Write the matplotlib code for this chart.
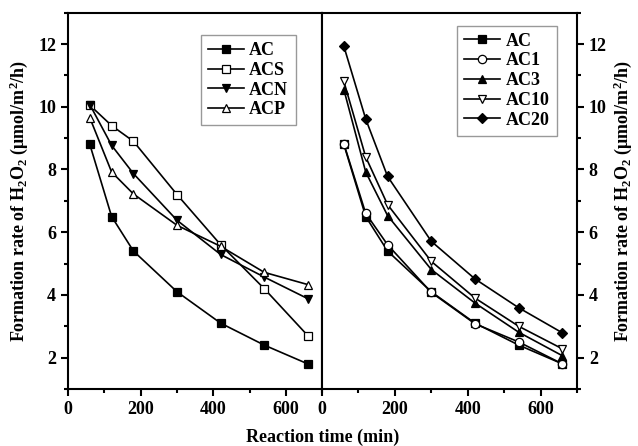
import matplotlib
matplotlib.use('Agg')
import matplotlib.pyplot as plt
from matplotlib.ticker import MultipleLocator

plt.rcParams['font.family'] = ['Liberation Serif', 'DejaVu Serif']
plt.rcParams['font.weight'] = 'bold'
plt.rcParams['mathtext.fontset'] = 'custom'
plt.rcParams['mathtext.bf'] = 'Liberation Serif:bold'
plt.rcParams['mathtext.rm'] = 'Liberation Serif:bold'
plt.rcParams['mathtext.default'] = 'bf'

# reaction time (min)
time = [60, 120, 180, 300, 420, 540, 660]

# left panel: modified carbons
ac = [8.8, 6.5, 5.4, 4.1, 3.1, 2.4, 1.8]
acs = [10.05, 9.4, 8.9, 7.2, 5.6, 4.2, 2.7]
acn = [10.07, 8.77, 7.87, 6.38, 5.29, 4.57, 3.88]
acp = [9.65, 7.92, 7.22, 6.22, 5.55, 4.72, 4.33]

# right panel: loading series
ac1 = [8.82, 6.6, 5.6, 4.08, 3.08, 2.5, 1.8]
ac3 = [10.55, 7.92, 6.53, 4.81, 3.74, 2.81, 2.06]
ac10 = [10.81, 8.4, 6.88, 5.07, 3.9, 3.0, 2.28]
ac20 = [11.93, 9.61, 7.78, 5.71, 4.51, 3.59, 2.79]

left_series = [('AC', ac, 's', 'k'), ('ACS', acs, 's', 'w'),
               ('ACN', acn, 'v', 'k'), ('ACP', acp, '^', 'w')]
right_series = [('AC', ac, 's', 'k'), ('AC1', ac1, 'o', 'w'),
                ('AC3', ac3, '^', 'k'), ('AC10', ac10, 'v', 'w'),
                ('AC20', ac20, 'D', 'k')]

ylabel = 'Formation rate of H$_2$O$_2$ (μmol/m$^2$/h)'

fig = plt.figure(figsize=(6.38, 4.46), dpi=100)
ax1 = fig.add_axes([0.1066, 0.1278, 0.3987, 0.8437])
ax2 = fig.add_axes([0.5047, 0.1278, 0.3997, 0.8437])


def draw(ax, series):
    for name, y, m, fc in series:
        ms = 6 if m != 'D' else 5.5
        ax.plot(time, y, color='k', lw=1.2, marker=m, ms=ms, mfc=fc,
                mec='k', mew=0.9, label=name)
    ax.set_xlim(0, 700)
    ax.set_ylim(1, 13)
    ax.xaxis.set_major_locator(MultipleLocator(200))
    ax.xaxis.set_minor_locator(MultipleLocator(100))
    ax.yaxis.set_major_locator(MultipleLocator(2))
    ax.yaxis.set_minor_locator(MultipleLocator(1))
    for s in ax.spines.values():
        s.set_linewidth(1.5)
    ax.tick_params(which='both', direction='out', width=1.5, labelsize=13, top=False)
    ax.tick_params(which='major', length=5)
    ax.tick_params(which='minor', length=3)


draw(ax1, left_series)
draw(ax2, right_series)

ax1.tick_params(axis='y', which='both', left=True, right=False)
ax2.tick_params(axis='y', which='both', left=False, right=True,
                labelleft=False, labelright=True)
ax2.yaxis.set_label_position('right')

ax1.set_ylabel(ylabel, fontsize=13, fontweight='bold', labelpad=6)
ax2.set_ylabel(ylabel, fontsize=13, fontweight='bold', labelpad=3)

leg_kw = dict(fontsize=13, frameon=True, fancybox=False, edgecolor='#808080',
              handlelength=2.0, handletextpad=0.3, borderpad=0.4,
              labelspacing=0.15)
l1 = ax1.legend(loc='upper right', bbox_to_anchor=(0.93, 0.965), **leg_kw)
l2 = ax2.legend(loc='upper right', bbox_to_anchor=(0.955, 0.99), **leg_kw)
for leg in (l1, l2):
    leg.get_frame().set_linewidth(1.0)

fig.text(0.505, 0.0, 'Reaction time (min)', ha='center', va='bottom',
         fontsize=13, fontweight='bold')

fig.savefig('out.png', dpi=100)
